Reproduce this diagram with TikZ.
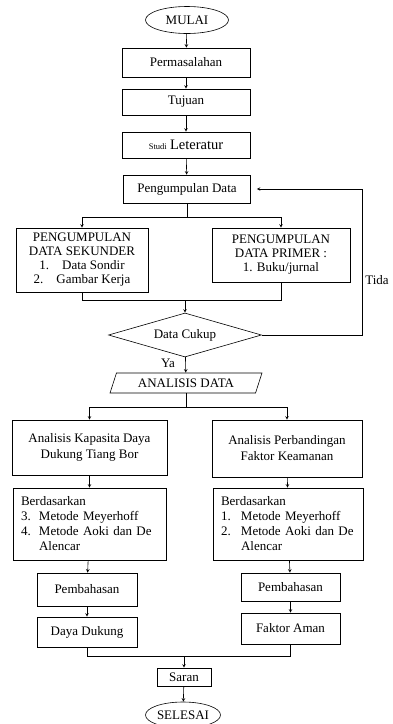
\documentclass[tikz,border=0pt]{standalone}
\usepackage{fontspec}
\setmainfont{Liberation Serif}
\usetikzlibrary{arrows, shapes.geometric, positioning}

\begin{document}
\begin{tikzpicture}[
            x = 1pt, y = -1pt, % pixel units, y downwards
            > = stealth, % arrow head style
            font = \fontsize{13}{15}\selectfont,
            line width = 0.6pt
        ]

        \tikzstyle{block}=[
            draw = black,
            rectangle,
            align = center,
            inner sep = 2pt
        ]
        \tikzstyle{terminal}=[draw = black, ellipse, inner sep = 0pt]
        \tikzstyle{decision}=[draw = black, diamond, aspect = 3.48, inner sep = 0pt]
        \tikzstyle{io}=[
            draw = black,
            trapezium,
            trapezium left angle = 63,
            trapezium right angle = 117,
            trapezium stretches = true,
            inner sep = 0pt
        ]
        \tikzstyle{listbox}=[block, align = left, inner sep = 8pt]

        \useasboundingbox (0,0) rectangle (393,724);

	\node[terminal, minimum width=83, minimum height=27] (mulai) at (187,20) {MULAI};
	\node[block, minimum width=128, minimum height=29] (masalah) at (186,62.5) {Permasalahan};
	\node[block, minimum width=128, minimum height=26] (tujuan) at (186,102) {Tujuan};
	\node[block, minimum width=128, minimum height=26] (studi) at (186,145)
	    {{\fontsize{8.5}{10}\selectfont Studi} {\fontsize{14.5}{16}\selectfont Leteratur}};
	\node[block, minimum width=127, minimum height=28] (kumpul) at (187,189) {Pengumpulan Data};
	\node[block, minimum width=132, minimum height=64, font=\fontsize{13}{14}\selectfont] (sekunder) at (82,260)
	    {PENGUMPULAN\\DATA SEKUNDER\\1.\quad Data Sondir\\2.\quad Gambar Kerja};
	\node[block, minimum width=138, minimum height=54, font=\fontsize{13}{14}\selectfont] (primer) at (281,255)
	    {PENGUMPULAN\\DATA PRIMER :\\1. Buku/jurnal};
	\node[decision, minimum width=153, minimum height=44] (cukup) at (185,335) {Data Cukup};
	\node[io, minimum width=152, minimum height=20] (analisis) at (186,383) {ANALISIS DATA};

	\node[block, minimum width=155, minimum height=55, font=\fontsize{13}{16}\selectfont] (kapasitas) at (89.5,447.5)
	    {Analisis Kapasita Daya\\Dukung Tiang Bor};
	\node[block, minimum width=150, minimum height=57, font=\fontsize{13}{16}\selectfont] (banding) at (287,448.5)
	    {Analisis Perbandingan\\Faktor Keamanan};
	\node[listbox, text width=137, minimum height=72] (dasar1) at (89.5,524)
	    {Berdasarkan\\\makebox[18pt][l]{3.}Metode Meyerhoff\\\makebox[18pt][l]{4.}Metode Aoki dan De\\\hspace*{18pt}Alencar};
	\node[listbox, text width=134, minimum height=72] (dasar2) at (288,524)
	    {Berdasarkan\\\makebox[20pt][l]{1.}Metode Meyerhoff\\\makebox[20pt][l]{2.}Metode Aoki dan De\\\hspace*{20pt}Alencar};
	\node[block, minimum width=100, minimum height=33] (bahas1) at (87,589.5) {Pembahasan};
	\node[block, minimum width=99, minimum height=28] (bahas2) at (290.5,587) {Pembahasan};
	\node[block, minimum width=100, minimum height=30] (dukung) at (87,632) {Daya Dukung};
	\node[block, minimum width=99, minimum height=31] (aman) at (290.5,628.5) {Faktor Aman};
	\node[block, minimum width=54, minimum height=18, inner sep=0pt] (saran) at (184,677) {Saran};
	\node[terminal, minimum width=75, minimum height=26] (selesai) at (183,715) {SELESAI};

	\node (tida) at (377,280) {Tida};
	\node (ya) at (168,363) {Ya};

	\coordinate (split1) at (187,217);
	\coordinate (merge1) at (185,300);
	\coordinate (back) at (362,189);
	\coordinate (split2) at (186,407);
	\coordinate (merge2) at (184,656);

	\draw[->] (mulai) -- (masalah);
	\draw[->] (masalah) -- (tujuan);
	\draw[->] (tujuan) -- (studi);
	\draw[->] (studi) -- (kumpul);

	\draw (kumpul) -- (split1);
	\draw[->] (split1) -| (sekunder);
	\draw[->] (split1) -| (primer);
	\draw (sekunder) |- (merge1);
	\draw (primer) |- (merge1);
	\draw[->] (merge1) -- (cukup);

	\draw[->, shorten > = 6pt] (cukup.east) -| (back) -- (kumpul.east);
	\draw[->] (cukup) -- (analisis);

	\draw (analisis) -- (split2);
	\draw[->] (split2) -| (kapasitas);
	\draw[->] (split2) -| (banding);
	\draw[->] (kapasitas) -- (dasar1);
	\draw[->] (banding) -- (dasar2);
	\draw[->] (dasar1) -- (bahas1);
	\draw[->] (dasar2) -- (bahas2);
	\draw[->] (bahas1) -- (dukung);
	\draw[->] (bahas2) -- (aman);
	\draw (dukung) |- (merge2);
	\draw (aman) |- (merge2);
	\draw[->] (merge2) -- (saran);
	\draw[->] (saran) -- (selesai);

    \end{tikzpicture}
\end{document}
